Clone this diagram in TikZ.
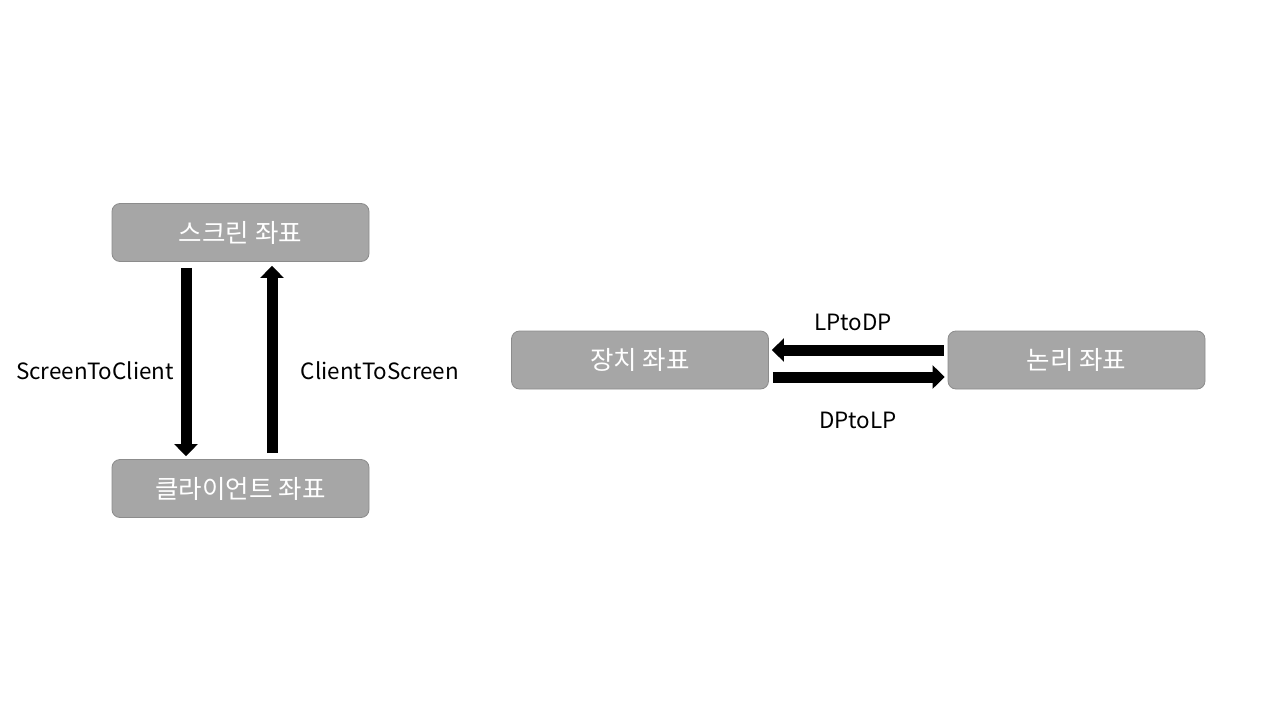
\documentclass[tikz,border=0pt]{standalone}
\usepackage{fontspec}
\setmainfont{Noto Sans CJK KR}
\usetikzlibrary{arrows.meta}
\definecolor{boxfill}{HTML}{A6A6A6}
\definecolor{boxline}{HTML}{8C8C8C}
\tikzset{
  coordbox/.style={draw=boxline, fill=boxfill, rounded corners=8pt, line width=0.8pt,
    minimum width=257pt, minimum height=58pt, text=white, font=\fontsize{25.5}{30}\selectfont, inner sep=0pt},
  bigarrow/.style={line width=11pt, -{Triangle[width=23pt,length=12pt]}},
  lbl/.style={font=\fontsize{22.4}{26}\selectfont, inner sep=0pt}
}
\begin{document}
\begin{tikzpicture}[x=1pt,y=-1pt]
\useasboundingbox (0,0) rectangle (1280,720);
\node[coordbox] (scr) at (240.5,232.5) {스크린 좌표};
\node[coordbox] (cli) at (240.5,488.5) {클라이언트 좌표};
\node[coordbox] (dev) at (640,360) {장치 좌표};
\node[coordbox] (log) at (1076.5,360) {논리 좌표};
\draw[bigarrow] ([xshift=-54.5pt,yshift=-6pt]scr.south) -- ([xshift=-54.5pt,yshift=3pt]cli.north);
\draw[bigarrow] ([xshift=31.5pt,yshift=6pt]cli.north) -- ([xshift=31.5pt,yshift=-4pt]scr.south);
\draw[bigarrow] ([xshift=-4pt,yshift=10pt]log.west) -- ([xshift=3pt,yshift=10pt]dev.east);
\draw[bigarrow] ([xshift=4pt,yshift=-17pt]dev.east) -- ([xshift=-3pt,yshift=-17pt]log.west);
\node[lbl] (l1) at (95,371) {ScreenToClient};
\node[lbl] (l2) at (380,371) {ClientToScreen};
\node[lbl] (l3) at (853,322) {LPtoDP};
\node[lbl] (l4) at (858,420) {DPtoLP};
\end{tikzpicture}
\end{document}
